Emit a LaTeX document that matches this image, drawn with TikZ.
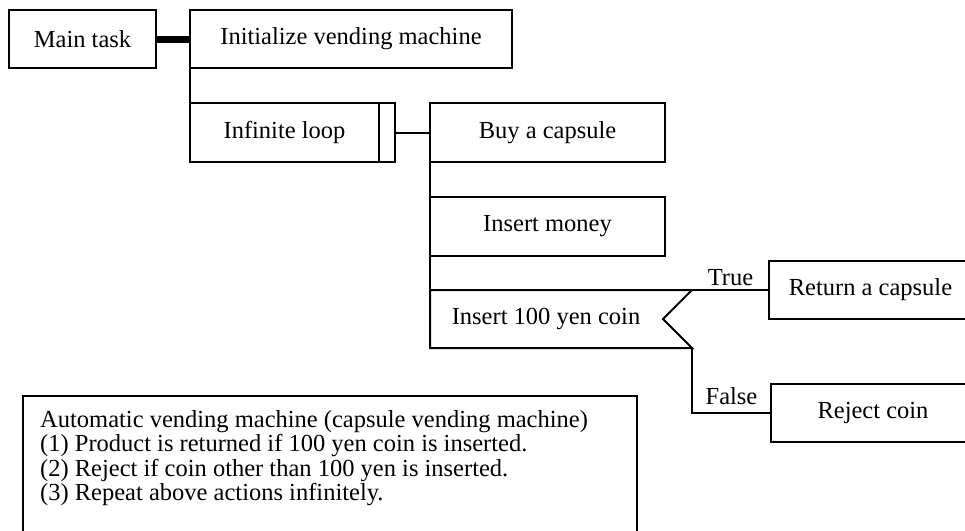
\documentclass[tikz,border=0pt]{standalone}
\usepackage{fontspec}
\setmainfont{Liberation Serif}
\usetikzlibrary{positioning, calc}

\begin{document}
\begin{tikzpicture}[
  x=1pt, y=-1pt,
  every node/.style = {font=\fontsize{24.5}{24}\selectfont},
  proc/.style = {draw, line width=2pt, rectangle, inner sep=0pt, outer sep=0pt, minimum height=58pt},
  link/.style = {line width=2pt},
  bar/.style = {line width=7pt},
  branch/.style = {inner sep=3pt}
]

% Page
\useasboundingbox (0,0) rectangle (965,530);

% Top level
\node[proc, minimum width=147pt] (main) at (82.5,39) {Main task};
\node[proc, minimum width=322pt] (init) at (351,39) {Initialize vending machine};
\node[proc, minimum width=189pt, minimum height=59pt] (loop) at (284.5,132.5) {Infinite loop};
\node[proc, minimum width=16pt, minimum height=59pt, right=0pt of loop] (loopend) {};

% Loop body
\node[proc, minimum width=235pt, minimum height=59pt] (buy) at (547.5,132.5) {Buy a capsule};
\node[proc, minimum width=235pt, minimum height=59pt] (money) at (547.5,226.5) {Insert money};

% Selection box (notched on the right)
\coordinate (c1) at (430,290);
\coordinate (c2) at (692,290);
\coordinate (tip) at (663,319);
\coordinate (c3) at (692,348);
\coordinate (c4) at (430,348);
\draw[link] (c1) -- (c2) -- (tip) -- (c3) -- (c4) -- cycle;
\node (coin) at (546,319) {Insert 100 yen coin};

% Results
\node[proc, minimum width=203pt] (ret) at (870.5,290) {Return a capsule};
\node[proc, minimum width=204pt] (rej) at (873,413) {Reject coin};

% Connections
\draw[bar] (main.east) -- (init.west |- main.east);
\draw[link] (init.south west) -- (loop.north west);
\draw[link] (loopend.east) -- (buy.west);
\draw[link] (buy.south west) -- (money.north west);
\draw[link] (money.south west) -- (c1);
\draw[link] (c2) -- node[branch, midway, above] {True} (ret.west);
\draw[link] (c3) |- node[branch, pos=0.75, above, inner sep=7pt] {False} (rej.west);

% Note
\node[draw, line width=2pt, outer sep=0pt, anchor=north west, minimum width=614pt, minimum height=150pt] (note) at (23,396) {};
\node[anchor=north west, align=left, inner sep=0pt, font=\fontsize{24.5}{24.5}\selectfont] (notetext) at (40,410) {%
  Automatic vending machine (capsule vending machine)\\
  (1) Product is returned if 100 yen coin is inserted.\\
  (2) Reject if coin other than 100 yen is inserted.\\
  (3) Repeat above actions infinitely.};

\end{tikzpicture}
\end{document}
